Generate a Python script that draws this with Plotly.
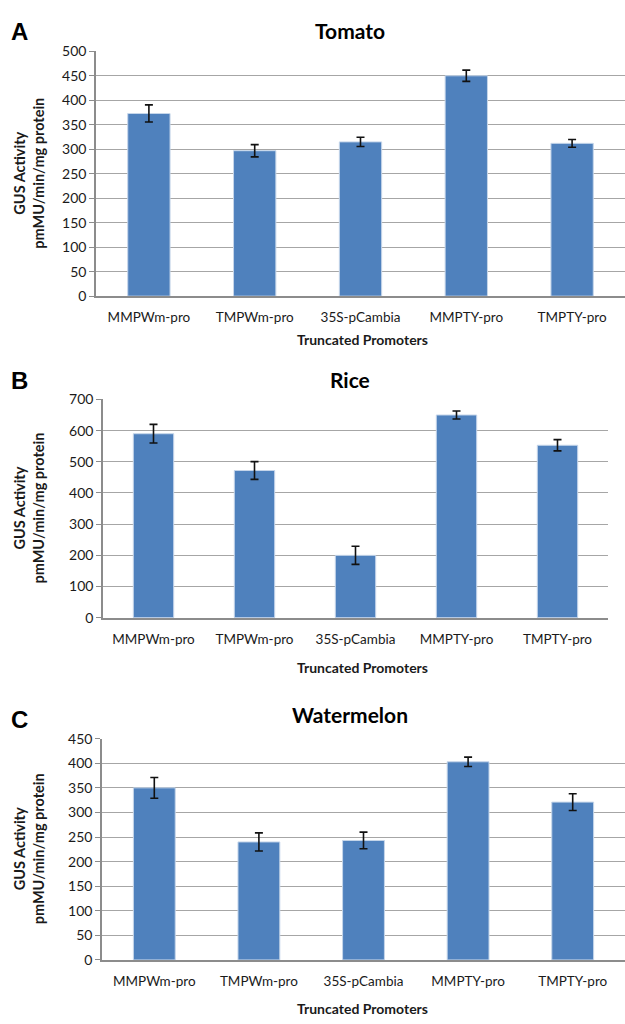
import plotly.graph_objects as go

categories = ["MMPWm-pro", "TMPWm-pro", "35S-pCambia", "MMPTY-pro", "TMPTY-pro"]

tomato_vals = [373, 297, 315, 450, 312]
tomato_err = [17.5, 12.5, 9.5, 11.5, 8]

rice_vals = [590, 472, 200, 650, 553]
rice_err = [30, 28.5, 29, 13, 18]

water_vals = [350, 240, 243, 403, 321]
water_err = [21, 18.5, 17, 9.5, 17]

titles = ["Tomato", "Rice", "Watermelon"]
letters = ["A", "B", "C"]
y_ranges = [(0, 500, 50), (0, 700, 100), (0, 450, 50)]

W, H = 625, 1024
# plot areas in pixels: (x0, x1, ytop, ybottom)
areas = [(96, 625, 43, 292), (103, 608, 397, 619), (102, 625, 742, 967)]
title_y = [22, 377, 717]
letter_y = [23, 378, 722]
xtitle_y = [336, 670, 1016]

BAR = "#4f81bd"
GRID = "#a6a6a6"
FONT = "Lato, Open Sans, sans-serif"
TXT = "#1a1a1a"

data = [(tomato_vals, tomato_err), (rice_vals, rice_err), (water_vals, water_err)]

fig = go.Figure()
annotations = []
for i, ((vals, errs), (x0, x1, yt, yb)) in enumerate(zip(data, areas)):
    n = "" if i == 0 else str(i + 1)
    fig.add_trace(go.Bar(
        x=categories, y=vals,
        xaxis="x" + n, yaxis="y" + n,
        marker=dict(color=BAR, line=dict(color="#c6d6ea", width=1)),
        width=0.4,
        error_y=dict(type="data", array=errs, visible=True, color="#111111",
                     thickness=1.6, width=4),
        showlegend=False,
    ))
    lo, hi, step = y_ranges[i]
    fig.layout["xaxis" + n] = dict(
        domain=[x0 / W, x1 / W], anchor="y" + n,
        showline=True, linecolor="#8c8c8c", linewidth=1.5,
        ticks="", showgrid=False,
        tickfont=dict(family=FONT, size=13.5, color=TXT),
        ticklabelstandoff=8,
    )
    fig.layout["yaxis" + n] = dict(
        domain=[1 - yb / H, 1 - yt / H], anchor="x" + n,
        range=[lo, hi], dtick=step, tick0=0,
        showline=True, linecolor="#8c8c8c", linewidth=1.5,
        ticks="outside", ticklen=5, tickcolor="#8c8c8c",
        showgrid=True, gridcolor=GRID, gridwidth=1.3,
        zeroline=False,
        tickfont=dict(family=FONT, size=14, color=TXT),
    )
    cy = 1 - (yt + yb) / 2 / H
    annotations.append(dict(
        text="<b>GUS Activity<br>pmMU/min/mg protein</b>",
        xref="paper", yref="paper", x=29 / W, y=cy,
        textangle=-90, showarrow=False, xanchor="center", yanchor="middle",
        font=dict(family=FONT, size=14.5, color=TXT),
    ))
    annotations.append(dict(
        text="<b>Truncated Promoters</b>",
        xref="paper", yref="paper", x=362 / W, y=1 - xtitle_y[i] / H,
        showarrow=False, xanchor="center", yanchor="middle",
        font=dict(family=FONT, size=14, color=TXT),
    ))
    annotations.append(dict(
        text="<b>" + titles[i] + "</b>",
        xref="paper", yref="paper", x=350 / W, y=1 - title_y[i] / H,
        showarrow=False, xanchor="center", yanchor="middle",
        font=dict(family=FONT, size=21, color="#000000"),
    ))
    annotations.append(dict(
        text="<b>" + letters[i] + "</b>",
        xref="paper", yref="paper", x=19 / W, y=1 - letter_y[i] / H,
        showarrow=False, xanchor="center", yanchor="middle",
        font=dict(family="Liberation Sans, Arial, sans-serif", size=24, color="#000000"),
    ))

fig.update_layout(
    width=W, height=H,
    margin=dict(l=0, r=0, t=0, b=0),
    paper_bgcolor="white", plot_bgcolor="white",
    annotations=annotations,
)

fig.write_html(
    "out.html",
    config={"displayModeBar": False},
    post_script="document.body.style.margin='0';document.body.style.overflow='hidden';",
)
